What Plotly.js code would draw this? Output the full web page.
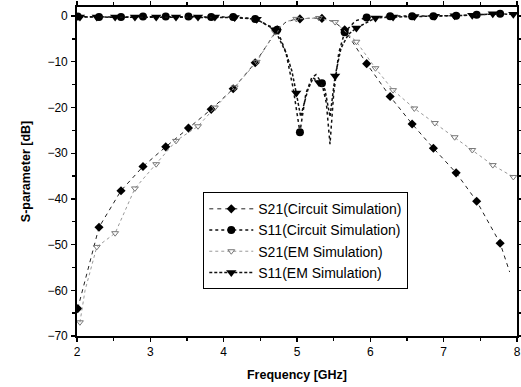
<!DOCTYPE html>
<html>
<head>
<meta charset="utf-8">
<script src="https://cdn.plot.ly/plotly-3.0.1.min.js"></script>
<style>html,body{margin:0;padding:0;background:#fff;}#chart{width:521px;height:387px;}</style>
</head>
<body>
<div id="chart"></div>
<script>
// ---- Data (frequency in GHz, value in dB) ----
// S21 (Circuit Simulation): marked points and extra curve points
var s21cF = [2.01, 2.3, 2.6, 2.9, 3.21, 3.52, 3.83, 4.13, 4.43, 4.73, 5.04, 5.34, 5.65, 5.95, 6.27, 6.57, 6.86, 7.17, 7.45, 7.77];
var s21cV = [-64, -46.2, -38.2, -32.9, -28.6, -24.5, -20.4, -15.9, -10.2, -3.0, -0.6, -0.5, -3.0, -10.4, -17.6, -23.6, -28.9, -34.3, -40.5, -49.7];
var s21cLineF = [4.85, 4.95, 5.2, 5.5, 7.9];
var s21cLineV = [-1.3, -0.8, -0.4, -1.2, -56];

// S11 (Circuit Simulation)
var s11cF = [2.01, 2.3, 2.6, 2.9, 3.21, 3.52, 3.83, 4.13, 4.43, 4.73, 5.04, 5.34, 5.65, 5.95, 6.27, 6.57, 6.86, 7.17, 7.45, 7.77];
var s11cV = [-0.1, -0.2, -0.2, -0.1, -0.1, -0.1, -0.2, -0.2, -0.6, -3.0, -25.4, -14.7, -3.5, -0.3, 0, 0, 0, 0.1, 0.3, 0.5];
var s11cLineF = [4.85, 4.95, 5.12, 5.2, 5.26, 5.4, 5.45, 5.5, 5.57, 5.8];
var s11cLineV = [-8, -16, -17, -13.5, -12.8, -19, -28, -17, -8, -1.0];

// S21 (EM Simulation)
var s21eF = [2.04, 2.27, 2.52, 2.79, 3.08, 3.35, 3.65, 3.88, 4.15, 4.45, 4.7, 4.99, 5.3, 5.52, 5.81, 6.07, 6.31, 6.6, 6.88, 7.15, 7.39, 7.67, 7.95];
var s21eV = [-67, -50.5, -47.5, -37.7, -32.4, -27.3, -24.1, -20, -15.6, -10, -3.5, -0.6, -0.4, -1.3, -5.6, -11.4, -16.2, -20.2, -23.4, -26.5, -29.3, -32.6, -35.2];
var s21eLineF = [2.11, 4.85];
var s21eLineV = [-60, -1.2];

// S11 (EM Simulation)
var s11eF = [2.04, 2.27, 2.52, 2.79, 3.08, 3.35, 3.65, 3.88, 4.15, 4.45, 4.7, 4.99, 5.3, 5.52, 5.81, 6.07, 6.31, 6.6, 6.88, 7.15, 7.39, 7.67, 7.95];
var s11eV = [-0.2, -0.2, -0.2, -0.2, -0.2, -0.2, -0.2, -0.2, -0.3, -0.7, -3.0, -16.8, -14.5, -13.1, -2.6, -0.4, -0.2, -0.1, 0, 0.1, 0.2, 0.5, 0.4];
var s11eLineF = [4.85, 4.93, 5.05, 5.15, 5.22, 5.38, 5.45, 5.6, 5.7];
var s11eLineV = [-8, -12, -22, -16, -13.5, -16, -22, -7, -4];

var seriesNames = ['S21(Circuit Simulation)', 'S11(Circuit Simulation)', 'S21(EM Simulation)', 'S11(EM Simulation)'];

// ---- Build traces ----
function merge(mf, mv, lf, lv, col) {
  var pts = [];
  for (var i = 0; i < mf.length; i++) pts.push({x: mf[i], y: mv[i], m: true});
  for (var j = 0; j < lf.length; j++) pts.push({x: lf[j], y: lv[j], m: false});
  pts.sort(function (a, b) { return a.x - b.x; });
  return {
    x: pts.map(function (p) { return p.x; }),
    y: pts.map(function (p) { return p.y; }),
    c: pts.map(function (p) { return p.m ? col : 'rgba(0,0,0,0)'; })
  };
}

var d1 = merge(s21cF, s21cV, s21cLineF, s21cLineV, '#000');
var d2 = merge(s11cF, s11cV, s11cLineF, s11cLineV, '#000');
var d3 = merge(s21eF, s21eV, s21eLineF, s21eLineV, '#777');
var d4 = merge(s11eF, s11eV, s11eLineF, s11eLineV, '#000');

var traces = [
  {x: d1.x, y: d1.y, name: seriesNames[0], mode: 'lines+markers', type: 'scatter',
   line: {color: '#222', width: 1, dash: '4px,4px'},
   marker: {symbol: 'diamond', size: 7, color: d1.c}},
  {x: d2.x, y: d2.y, name: seriesNames[1], mode: 'lines+markers', type: 'scatter',
   line: {color: '#111', width: 1.5, dash: 'dot'},
   marker: {symbol: 'circle', size: 8, color: d2.c}},
  {x: d3.x, y: d3.y, name: seriesNames[2], mode: 'lines+markers', type: 'scatter',
   line: {color: '#999', width: 1, dash: 'dot'},
   marker: {symbol: 'triangle-down-open', size: 6, color: d3.c, line: {width: 1}}},
  {x: d4.x, y: d4.y, name: seriesNames[3], mode: 'lines+markers', type: 'scatter',
   line: {color: '#111', width: 1.5, dash: '3px,2px'},
   marker: {symbol: 'triangle-down', size: 9, color: d4.c}}
];

var axisFont = {family: 'Liberation Sans, Arial, sans-serif', size: 12, color: '#000'};

var layout = {
  width: 521, height: 387,
  margin: {l: 77, r: 4, t: 7, b: 51},
  paper_bgcolor: '#fff', plot_bgcolor: '#fff',
  showlegend: true,
  font: axisFont,
  xaxis: {
    range: [2, 8], dtick: 1, tick0: 2,
    showgrid: false, zeroline: false,
    showline: true, linecolor: '#000', linewidth: 1.8, mirror: 'ticks',
    ticks: 'outside', ticklen: 4, tickwidth: 1.3, tickcolor: '#000',
    minor: {dtick: 0.5, ticks: 'outside', ticklen: 3, tickcolor: '#000', showgrid: false},
    tickfont: axisFont,
    title: {text: 'Frequency [GHz]', font: {family: 'Liberation Sans, Arial, sans-serif', size: 12.5, weight: 'bold', color: '#000'}, standoff: 12}
  },
  yaxis: {
    range: [-70, 2], dtick: 10, tick0: 0,
    showgrid: false, zeroline: false,
    showline: true, linecolor: '#000', linewidth: 1.8, mirror: 'ticks',
    ticks: 'outside', ticklen: 4, tickwidth: 1.3, tickcolor: '#000',
    minor: {dtick: 5, ticks: 'outside', ticklen: 3, tickcolor: '#000', showgrid: false},
    tickfont: axisFont,
    ticklabelstandoff: 1,
    title: {text: 'S-parameter [dB]', font: {family: 'Liberation Sans, Arial, sans-serif', size: 12.5, weight: 'bold', color: '#000'}, standoff: 14}
  },
  legend: {
    x: 0.287, y: 0.437, xanchor: 'left', yanchor: 'top',
    bgcolor: '#fff', bordercolor: '#000', borderwidth: 1,
    font: {family: 'Liberation Sans, Arial, sans-serif', size: 14, color: '#000'},
    itemwidth: 44, tracegroupgap: 0
  }
};

Plotly.newPlot('chart', traces, layout, {displayModeBar: false, staticPlot: true});
</script>
</body>
</html>
